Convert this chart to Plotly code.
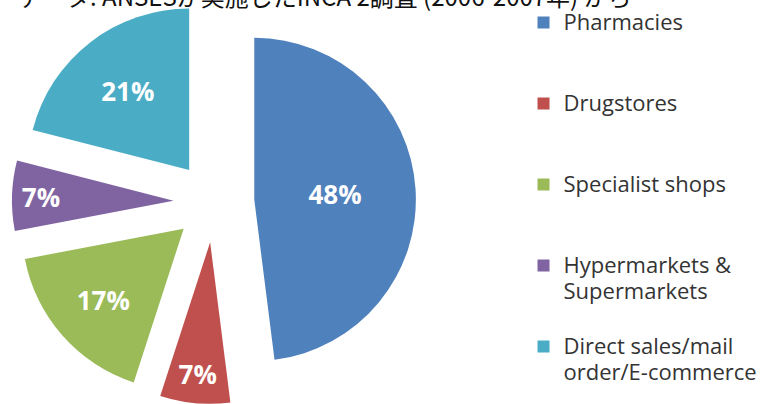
import plotly.graph_objects as go

channels = ["Pharmacies", "Drugstores", "Specialist shops",
            "Hypermarkets &<br>Supermarkets", "Direct sales/mail<br>order/E-commerce"]
shares = [48, 7, 17, 7, 21]
colors = ["#4F81BD", "#C0504D", "#9BBB59", "#8064A2", "#4BACC6"]
source_note = "データ: ANSESが実施したINCA 2調査 (2006-2007年) から"

# legend: pad entries to three lines so the rows sit ~81px apart (the last
# one needs no padding), swatch pinned to the first line with valign top
legend_labels = []
for i, name in enumerate(channels):
    lines = name.split("<br>")
    while len(lines) < 3 and i < len(channels) - 1:
        lines.append(" ")
    legend_labels.append("<br>".join(
        f"<span style='font-size:22px'>{ln}</span>" for ln in lines))

fig = go.Figure(go.Pie(
    labels=legend_labels,
    values=shares,
    text=[f"{v}%" for v in shares],
    textinfo="text",
    textposition="inside",
    insidetextorientation="horizontal",
    textfont=dict(family="Open Sans", size=26, color="white", weight="bold"),
    marker=dict(colors=colors, line=dict(width=0)),
    pull=[0.25] * len(shares),
    sort=False,
    direction="clockwise",
    rotation=0,
    domain=dict(x=[0, 0.555], y=[0, 1]),
    hoverinfo="skip",
))

# source note sits half outside the top edge, as in the original
fig.add_annotation(
    text=source_note, xref="paper", yref="paper",
    x=0.021, y=1.011, xanchor="left", yanchor="middle",
    showarrow=False,
    font=dict(family="Noto Sans CJK JP", size=24, color="#111111"),
)

fig.update_layout(
    width=771, height=404,
    margin=dict(l=0, r=0, t=0, b=0),
    paper_bgcolor="white",
    plot_bgcolor="white",
    uniformtext=dict(minsize=26, mode="show"),
    showlegend=True,
    legend=dict(
        x=0.679, y=0.9926, xanchor="left", yanchor="top",
        valign="top",
        font=dict(family="Open Sans", size=20, color="#333333"),
        bgcolor="rgba(0,0,0,0)",
    ),
)

fig.write_html("out.html", config={"displayModeBar": False},
               post_script="document.body.style.margin='0';")
